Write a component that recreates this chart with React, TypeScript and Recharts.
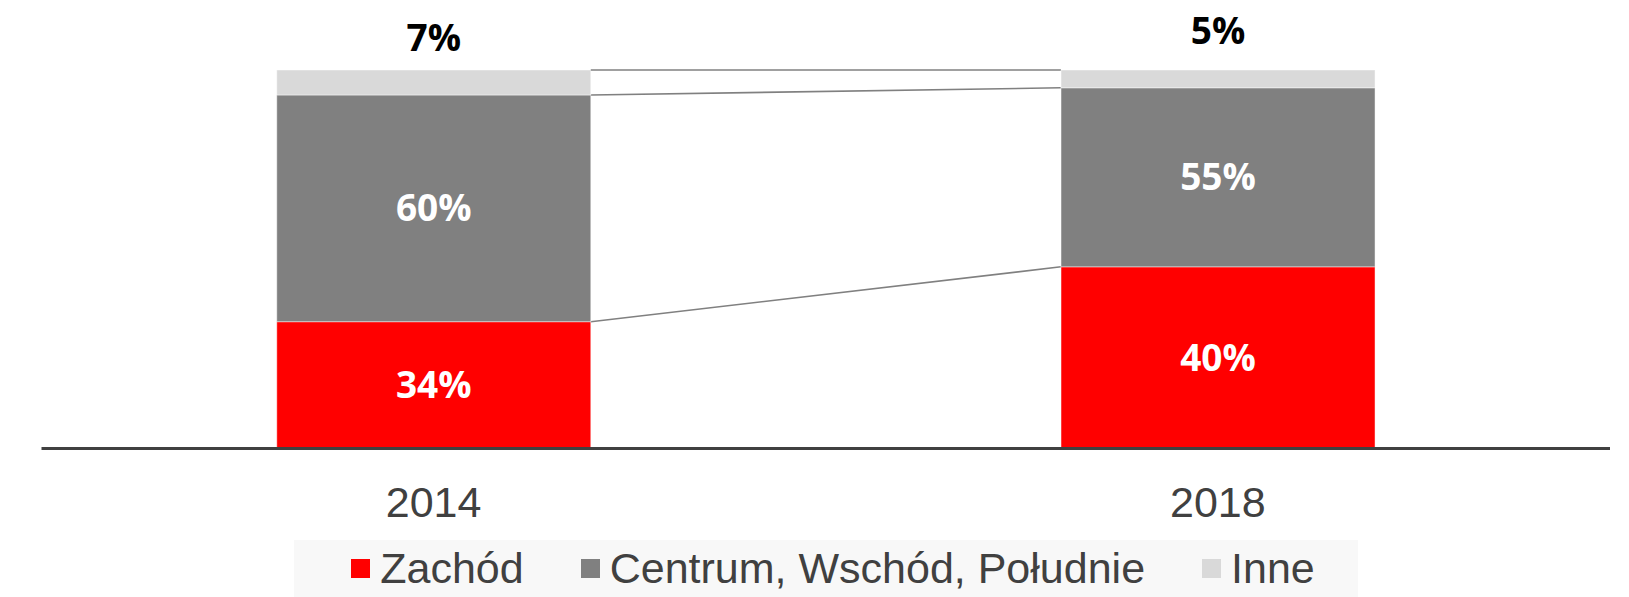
import React from 'react';
import { BarChart, Bar, XAxis, YAxis, LabelList, Legend } from 'recharts';

const years = ['2014', '2018'];
const zachod = [33.5, 48.0];
const centrum = [59.9, 47.3];
const inne = [6.6, 4.7];
const zachodLabels = ['34%', '40%'];
const centrumLabels = ['60%', '55%'];
const inneLabels = ['7%', '5%'];
const seriesNames = ['Zachód', 'Centrum, Wschód, Południe', 'Inne'];
const seriesColors = ['#ff0000', '#808080', '#d9d9d9'];

const data = years.map((year, i) => ({
  year,
  zachod: zachod[i],
  centrum: centrum[i],
  inne: inne[i],
  zachodLabel: zachodLabels[i],
  centrumLabel: centrumLabels[i],
  inneLabel: inneLabels[i],
}));

type Geom = { x: number; y: number; width: number; height: number };
const geoms: Record<string, Geom[]> = {};

function makeShape(key: string, fill: string) {
  return (props: any) => {
    const { x, y, width, height, index } = props;
    if (!geoms[key]) geoms[key] = [];
    geoms[key][index] = { x, y, width, height };
    const prev = index > 0 ? geoms[key][index - 1] : undefined;
    return (
      <g>
        {prev && (
          <line
            x1={prev.x + prev.width}
            y1={prev.y}
            x2={x}
            y2={y}
            stroke="#808080"
            strokeWidth={1.6}
          />
        )}
        <rect
          x={x}
          y={y}
          width={width}
          height={height}
          fill={fill}
          stroke="rgba(255,255,255,0.45)"
          strokeWidth={1}
        />
      </g>
    );
  };
}

const labelFont = '"Open Sans", "Noto Sans", sans-serif';
const textFont = '"Liberation Sans", Arial, sans-serif';

const renderTopLabel = (p: any) => {
  const vb = p.viewBox || p;
  const cx = vb.x + vb.width / 2;
  const yBottom = vb.y + vb.height;
  return (
    <text
      x={cx}
      y={yBottom - 57}
      dy="0.355em"
      textAnchor="middle"
      fill="#000000"
      fontFamily={labelFont}
      fontWeight={700}
      fontSize={37}
    >
      {p.value}
    </text>
  );
};

const renderLegend = (props: any) => {
  const payload = [...(props.payload || [])].sort(
    (a: any, b: any) => seriesNames.indexOf(a.value) - seriesNames.indexOf(b.value)
  );
  return (
    <div
      style={{
        width: '100%',
        height: '100%',
        background: '#f8f8f8',
        display: 'flex',
        alignItems: 'center',
        justifyContent: 'center',
        paddingLeft: 14,
        boxSizing: 'border-box',
      }}
    >
      {payload.map((p: any, i: number) => (
        <div
          key={i}
          style={{ display: 'flex', alignItems: 'center', marginLeft: i ? 57 : 0 }}
        >
          <span
            style={{
              display: 'inline-block',
              width: 19,
              height: 19,
              background: p.color,
              marginRight: 10,
            }}
          />
          <span
            style={{
              fontFamily: textFont,
              fontSize: 43,
              color: '#404040',
              lineHeight: 1,
              whiteSpace: 'nowrap',
            }}
          >
            {p.value}
          </span>
        </div>
      ))}
    </div>
  );
};

export default function App() {
  return (
    <div style={{ position: 'absolute', left: 0, top: 0, width: 1629, height: 597, background: '#fff' }}>
      <BarChart
        width={1629}
        height={597}
        data={data}
        margin={{ top: 70, right: 19, bottom: 0, left: 41.5 }}
        barCategoryGap="30%"
      >
        <XAxis
          dataKey="year"
          height={148.5}
          interval={0}
          axisLine={{ stroke: '#404040', strokeWidth: 3 }}
          tickLine={false}
          tickSize={0}
          tickMargin={38}
          tick={{ fill: '#404040', fontSize: 43, fontFamily: textFont }}
        />
        <YAxis hide domain={[0, 100]} />
        <Legend
          layout="horizontal"
          verticalAlign="middle"
          align="center"
          content={renderLegend}
          wrapperStyle={{ left: 294, top: 540, width: 1064, height: 57 }}
        />
        <Bar
          dataKey="zachod"
          name={seriesNames[0]}
          stackId="a"
          fill={seriesColors[0]}
          shape={makeShape('zachod', seriesColors[0])}
          isAnimationActive={false}
        >
          <LabelList
            dataKey="zachodLabel"
            position="center"
            fill="#ffffff"
            fontFamily={labelFont}
            fontWeight={700}
            fontSize={37}
          />
        </Bar>
        <Bar
          dataKey="centrum"
          name={seriesNames[1]}
          stackId="a"
          fill={seriesColors[1]}
          shape={makeShape('centrum', seriesColors[1])}
          isAnimationActive={false}
        >
          <LabelList
            dataKey="centrumLabel"
            position="center"
            fill="#ffffff"
            fontFamily={labelFont}
            fontWeight={700}
            fontSize={37}
          />
        </Bar>
        <Bar
          dataKey="inne"
          name={seriesNames[2]}
          stackId="a"
          fill={seriesColors[2]}
          shape={makeShape('inne', seriesColors[2])}
          isAnimationActive={false}
        >
          <LabelList dataKey="inneLabel" content={renderTopLabel} />
        </Bar>
      </BarChart>
    </div>
  );
}
